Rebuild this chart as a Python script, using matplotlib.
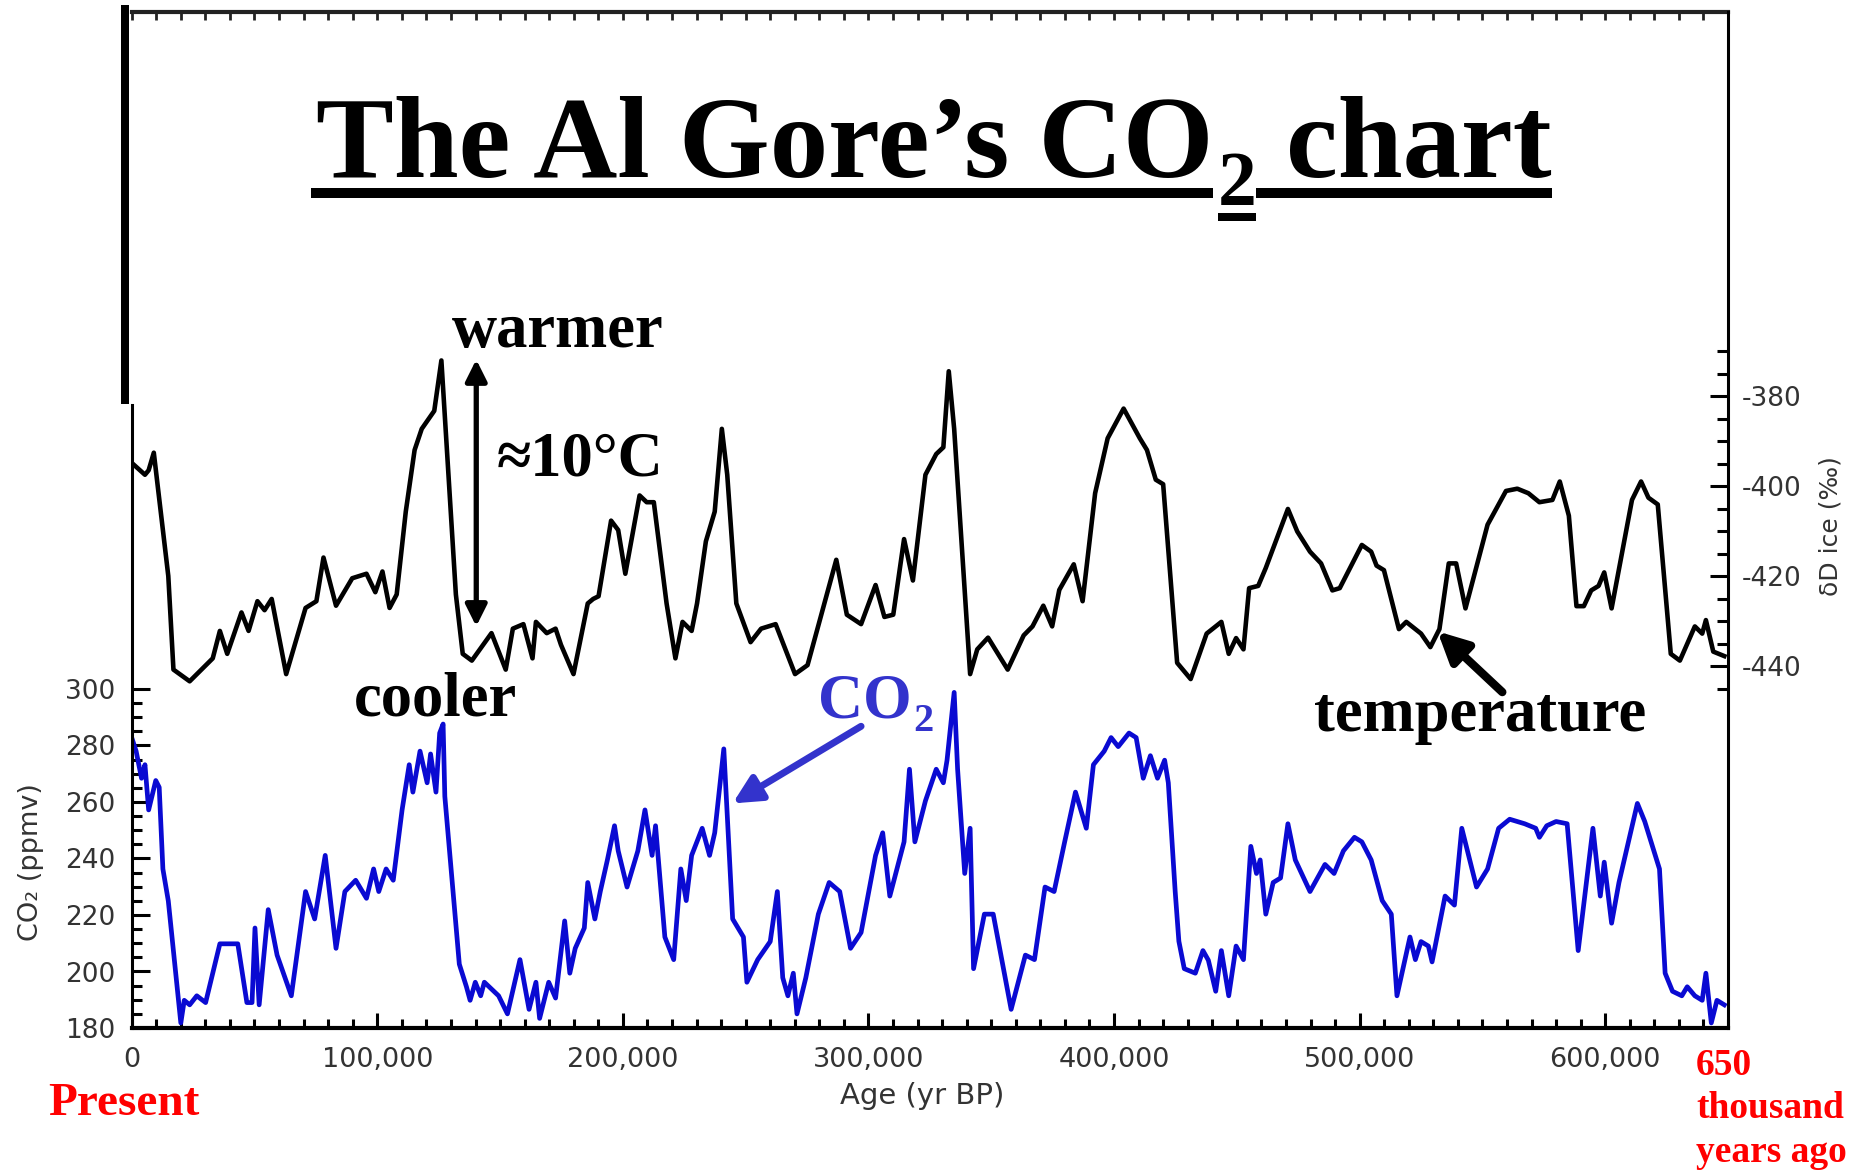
import matplotlib
matplotlib.use("Agg")
import matplotlib.pyplot as plt
from matplotlib.lines import Line2D
from matplotlib.ticker import FixedLocator, MultipleLocator, FuncFormatter
import numpy as np

W, H = 1858, 1171
plt.rcParams['axes.unicode_minus'] = False

# deuterium record (thousand years BP, delta D per mil)
temp_age_k = [0.3, 5.4, 6.9, 9.0, 14.9, 17.0, 23.6, 33.0, 35.9, 38.9, 44.7, 47.6, 51.2,
              54.1, 57.0, 62.9, 70.8, 75.2, 78.1, 83.2, 89.8, 95.6, 99.2, 102.1, 105.0,
              107.9, 111.6, 115.2, 118.1, 123.2, 126.1, 132.0, 134.8, 138.5, 146.5, 152.3,
              155.2, 159.5, 163.2, 164.6, 169.0, 172.6, 174.8, 179.9, 185.7, 187.9, 190.1,
              195.2, 198.1, 201.0, 206.8, 209.7, 212.6, 217.8, 221.4, 224.3, 228.0, 230.2,
              233.8, 237.4, 240.3, 242.5, 246.2, 252.0, 256.3, 262.2, 270.1, 275.2, 286.9,
              291.2, 297.0, 302.9, 306.5, 310.1, 314.5, 318.1, 323.2, 327.6, 330.5, 332.7,
              334.9, 341.4, 344.3, 348.7, 356.7, 363.2, 366.8, 371.2, 374.8, 377.7, 383.6,
              387.2, 392.3, 397.4, 403.9, 410.5, 413.4, 417.0, 420.0, 425.7, 431.2, 437.7,
              443.7, 446.7, 449.7, 452.7, 455.0, 458.7, 461.8, 470.8, 474.6, 479.8, 484.3,
              488.9, 491.9, 500.9, 504.7, 506.9, 509.9, 516.0, 519.0, 525.0, 528.8, 532.5,
              536.3, 539.3, 543.1, 552.1, 559.6, 564.2, 568.7, 573.2, 578.5, 581.5, 585.2,
              588.3, 591.3, 594.3, 597.3, 599.6, 602.6, 610.9, 614.6, 617.6, 621.4, 626.7,
              630.4, 636.5, 639.5, 641.0, 644.0, 648.5]
temp_dD = [-395.0, -397.5, -396.5, -392.6, -420.0, -440.8, -443.4, -438.3, -432.2, -437.3,
           -428.1, -432.2, -425.6, -427.6, -425.1, -441.8, -427.1, -425.6, -415.9, -426.6,
           -420.5, -419.5, -423.6, -419.0, -427.1, -424.1, -405.7, -392.0, -387.3, -383.3,
           -372.1, -424.1, -437.3, -438.8, -432.7, -440.8, -431.7, -430.7, -438.3, -430.2,
           -432.7, -431.7, -435.3, -441.8, -426.1, -425.1, -424.5, -407.7, -409.8, -419.5,
           -402.1, -403.6, -403.6, -426.1, -438.3, -430.2, -432.2, -426.1, -412.3, -405.7,
           -387.3, -397.5, -426.1, -434.7, -431.7, -430.7, -441.8, -439.8, -416.4, -428.6,
           -430.7, -422.0, -429.1, -428.6, -411.8, -421.0, -397.5, -392.9, -391.4, -374.5,
           -387.3, -441.8, -436.3, -433.7, -440.8, -433.2, -431.2, -426.6, -431.2, -423.1,
           -417.4, -425.6, -401.6, -389.4, -382.8, -389.4, -392.0, -398.6, -399.6, -439.3,
           -442.9, -432.8, -430.2, -437.3, -433.8, -436.3, -422.7, -422.2, -418.2, -405.1,
           -410.1, -414.6, -417.2, -423.2, -422.7, -413.1, -414.6, -417.7, -418.7, -431.8,
           -430.2, -432.8, -435.8, -431.8, -417.2, -417.2, -427.2, -408.6, -401.1, -400.6,
           -401.6, -403.6, -403.1, -399.0, -406.6, -426.7, -426.7, -423.2, -422.2, -419.2,
           -427.2, -403.1, -399.0, -402.6, -404.1, -437.3, -438.8, -431.2, -432.8, -429.8,
           -436.8, -437.8]

# CO2 record (thousand years BP, ppmv)
co2_age_k = [0.3, 1.8, 4.0, 5.4, 6.9, 9.8, 11.2, 12.7, 14.9, 18.5, 20.0, 21.4, 23.6, 26.5,
             30.1, 35.9, 43.2, 46.9, 49.0, 50.2, 51.9, 55.6, 59.2, 65.0, 70.8, 74.5, 78.8,
             83.2, 86.8, 91.2, 95.6, 98.5, 100.6, 103.6, 106.5, 110.1, 113.0, 114.5, 117.4,
             120.3, 121.7, 123.9, 125.4, 126.8, 127.5, 133.4, 136.3, 137.8, 139.9, 142.1,
             143.6, 149.4, 153.0, 158.1, 161.8, 164.6, 166.1, 169.8, 172.6, 176.3, 178.4,
             180.6, 184.3, 185.7, 188.6, 190.8, 193.7, 196.6, 198.1, 201.7, 206.1, 209.0,
             211.9, 213.3, 217.1, 220.7, 223.6, 225.8, 228.0, 232.3, 235.3, 237.4, 241.1,
             244.7, 249.1, 250.5, 254.9, 260.0, 262.9, 265.1, 267.2, 269.4, 270.9, 274.5,
             279.6, 284.0, 288.3, 292.7, 297.0, 302.9, 305.8, 308.7, 314.5, 316.7, 318.9,
             323.2, 327.6, 330.5, 332.0, 334.9, 336.3, 339.2, 341.4, 342.8, 347.2, 350.8,
             358.1, 363.9, 367.6, 371.9, 375.6, 379.9, 384.3, 388.7, 391.6, 396.0, 398.8,
             401.7, 406.1, 409.0, 411.9, 414.8, 417.7, 420.6, 422.1, 424.9, 426.4, 428.6,
             433.1, 436.2, 438.4, 441.4, 443.7, 446.7, 449.7, 452.7, 455.7, 458.0, 459.5,
             461.8, 464.8, 467.8, 470.8, 473.8, 479.8, 485.9, 489.6, 493.4, 497.9, 500.9,
             504.7, 509.2, 512.9, 515.2, 520.5, 522.7, 525.0, 528.0, 529.5, 534.8, 538.6,
             541.6, 547.6, 552.1, 556.6, 561.1, 567.2, 571.7, 573.2, 576.2, 580.0, 584.5,
             589.0, 595.0, 598.0, 599.6, 602.6, 605.6, 613.1, 616.1, 622.1, 624.4, 627.4,
             631.2, 633.4, 636.5, 639.5, 641.0, 643.2, 645.5, 648.5]
co2_ppmv = [282.0, 278.0, 268.4, 273.2, 257.2, 267.6, 265.2, 236.3, 225.0, 194.6, 181.8,
            189.8, 188.2, 191.4, 189.0, 209.8, 209.8, 189.0, 189.0, 215.4, 188.2, 221.9,
            205.8, 191.4, 228.3, 218.6, 241.1, 208.2, 228.3, 232.3, 225.9, 236.3, 228.3,
            236.3, 232.3, 257.2, 273.2, 263.5, 278.0, 266.8, 277.0, 263.5, 284.4, 287.6,
            262.0, 202.6, 194.6, 189.8, 196.2, 191.4, 196.2, 191.4, 185.0, 204.2, 186.6,
            196.2, 183.4, 196.2, 190.6, 217.9, 199.4, 208.2, 215.4, 231.5, 218.6, 228.3,
            239.5, 251.6, 242.7, 229.9, 242.7, 257.2, 241.1, 251.6, 212.2, 204.2, 236.3,
            225.1, 241.1, 250.7, 241.1, 249.1, 278.8, 218.6, 212.2, 196.2, 204.2, 210.6,
            228.3, 197.8, 191.4, 199.4, 185.0, 197.8, 220.3, 231.5, 228.3, 208.2, 213.8,
            241.1, 249.1, 226.7, 245.9, 271.6, 245.9, 260.4, 271.6, 266.8, 274.8, 298.8,
            271.6, 234.7, 250.7, 201.0, 220.3, 220.3, 186.6, 205.8, 204.2, 229.9, 228.3,
            245.9, 263.5, 250.7, 273.2, 278.0, 282.8, 279.6, 284.4, 282.8, 268.4, 276.4,
            268.4, 274.8, 266.8, 228.3, 210.7, 201.0, 199.4, 207.4, 204.0, 193.0, 207.4,
            191.4, 209.0, 204.2, 244.3, 234.7, 239.5, 220.3, 231.5, 233.1, 252.3, 239.5,
            228.3, 237.9, 234.7, 242.7, 247.5, 245.9, 239.5, 225.1, 220.3, 191.4, 212.2,
            204.2, 210.6, 209.0, 203.4, 226.7, 223.5, 250.7, 229.9, 236.3, 250.7, 253.9,
            252.3, 250.7, 247.5, 251.6, 253.1, 252.3, 207.4, 250.7, 226.7, 238.7, 217.1,
            231.5, 259.5, 253.1, 236.3, 199.4, 193.0, 191.4, 194.6, 191.4, 189.8, 199.4,
            181.8, 189.8, 188.2]

x_ticks = [0, 100000, 200000, 300000, 400000, 500000, 600000]
co2_ticks = [180, 200, 220, 240, 260, 280, 300]
dD_ticks = [-380, -400, -420, -440]

black = 'black'
curve_blue = '#0a0ad2'
note_blue = '#3333cc'
red = '#ff0000'
tick_grey = '#333333'
serif = ['Liberation Serif', 'DejaVu Serif']


def px_text(x, y, s, size, color=black, **kw):
    # x, y are pixel positions measured from the top-left corner
    return fig.text(x / W, 1 - y / H, s, fontsize=size, color=color, family=serif,
                    weight='bold', va='baseline', ha='left', **kw)


def px_hline(x0, x1, y, lw_px, color=black):
    fig.add_artist(Line2D([x0 / W, x1 / W], [1 - y / H, 1 - y / H], lw=lw_px * 0.72,
                          color=color, solid_capstyle='butt'))


fig = plt.figure(figsize=(W / 100, H / 100), dpi=100)
ax = fig.add_axes([131.7 / W, 1 - 1028 / H, (1728 - 131.7) / W, (1028 - 12) / H])
ax2 = ax.twinx()

ax.set_xlim(0, 650000)
ax.set_ylim(180, 180 + (1028 - 12) / 2.825)
ax2.set_ylim(-440 - (1028 - 666) / 4.5, -380 + (396 - 12) / 4.5)

ax.plot(np.array(co2_age_k) * 1000, co2_ppmv, color=curve_blue, lw=3.4)
ax2.plot(np.array(temp_age_k) * 1000, temp_dD, color=black, lw=3.3)

# spines
ax.spines['right'].set_visible(False)
ax.spines['top'].set_visible(False)
ax.spines['left'].set_bounds(180, 400.5)
ax.spines['left'].set_linewidth(2.2)
ax.spines['bottom'].set_linewidth(3.0)
for side in ['left', 'top', 'bottom']:
    ax2.spines[side].set_visible(False)
ax2.spines['right'].set_linewidth(2.2)

# x ticks
ax.xaxis.set_major_locator(FixedLocator(x_ticks))
ax.xaxis.set_minor_locator(MultipleLocator(10000))
ax.xaxis.set_major_formatter(FuncFormatter(lambda v, p: f"{int(v):,}"))
ax.tick_params(axis='x', which='major', direction='in', length=11, width=2.2, top=False,
               labelsize=19.5, labelcolor=tick_grey, pad=14)
ax.tick_params(axis='x', which='minor', direction='in', length=6.5, width=2.2, top=False)

top = ax.secondary_xaxis('top')
top.xaxis.set_major_locator(MultipleLocator(10000))
top.tick_params(axis='x', direction='in', length=6, width=2, labeltop=False, color='#222222')
top.spines['top'].set_linewidth(3)
top.spines['top'].set_color('#222222')

# CO2 axis
ax.yaxis.set_major_locator(FixedLocator(co2_ticks))
ax.yaxis.set_minor_locator(FixedLocator(list(range(180, 301, 5))))
ax.tick_params(axis='y', which='major', direction='in', length=13, width=2.2,
               labelsize=19, labelcolor=tick_grey, pad=12)
ax.tick_params(axis='y', which='minor', direction='in', length=7.5, width=2.2)

# deuterium axis
ax2.yaxis.set_major_locator(FixedLocator(dD_ticks))
ax2.yaxis.set_minor_locator(FixedLocator(list(range(-445, -369, 5))))
ax2.tick_params(axis='y', which='major', direction='in', length=13, width=2.2,
                labelsize=19, labelcolor=tick_grey, pad=10)
ax2.tick_params(axis='y', which='minor', direction='in', length=8, width=2.2)

# axis titles
fig.text(922 / W, 1 - 1096 / H, "Age (yr BP)", fontsize=21, color=tick_grey,
         ha='center', va='center')
fig.text(31 / W, 1 - 862 / H, "CO\u2082 (ppmv)", fontsize=19.5, color=tick_grey,
         ha='center', va='center', rotation=90)
fig.text(1831 / W, 1 - 526 / H, "\u03b4D ice (\u2030)", fontsize=18, color=tick_grey,
         ha='center', va='center', rotation=90)

# heavy left bar from the slide frame
fig.add_artist(Line2D([125 / W, 125 / W], [1 - 5 / H, 1 - 404 / H], lw=8 * 0.72,
                      color=black, solid_capstyle='butt'))

rend = fig.canvas.get_renderer()

# title with underline broken around the subscript
t1 = px_text(316, 177, "The Al Gore\u2019s CO", 84)
b1 = t1.get_window_extent(rend)
t2 = px_text(b1.x1 + 4, 205, "2", 56)
b2 = t2.get_window_extent(rend)
t3 = px_text(b2.x1 + 30, 177, "chart", 84)
b3 = t3.get_window_extent(rend)
px_hline(b1.x0 - 5, b1.x1, 193, 10)
px_hline(b2.x0, b2.x1, 217, 8)
px_hline(b2.x1, b3.x1, 193, 10)

# annotations
px_text(452, 347, "warmer", 45)
px_text(497, 475, "\u224810\u00b0C", 45)
px_text(354, 715, "cooler", 45)
px_text(1314, 731, "temperature", 45)
c1 = px_text(818, 717, "CO", 45, color=note_blue)
cb = c1.get_window_extent(rend)
px_text(cb.x1 + 2, 731, "2", 29, color=note_blue)

px_text(48, 1115, "Present", 34, color=red)
px_text(1696, 1075, "650", 27, color=red)
px_text(1696, 1118, "thousand", 27, color=red)
px_text(1696, 1162, "years ago", 27, color=red)

ax2.annotate('', xy=(140300, -371.9), xytext=(140300, -431.2),
             arrowprops=dict(arrowstyle='<|-|>', mutation_scale=32, lw=3.8, color=black,
                             shrinkA=0, shrinkB=0))
ax2.annotate('', xy=(531700, -432.3), xytext=(558100, -445.8),
             arrowprops=dict(arrowstyle='-|>', mutation_scale=45, lw=6, color=black,
                             shrinkA=0, shrinkB=0))
ax.annotate('', xy=(244700, 259.5), xytext=(297000, 286.8),
            arrowprops=dict(arrowstyle='-|>', mutation_scale=42, lw=5, color=note_blue,
                            shrinkA=0, shrinkB=0))

fig.savefig("out.png", dpi=100)
